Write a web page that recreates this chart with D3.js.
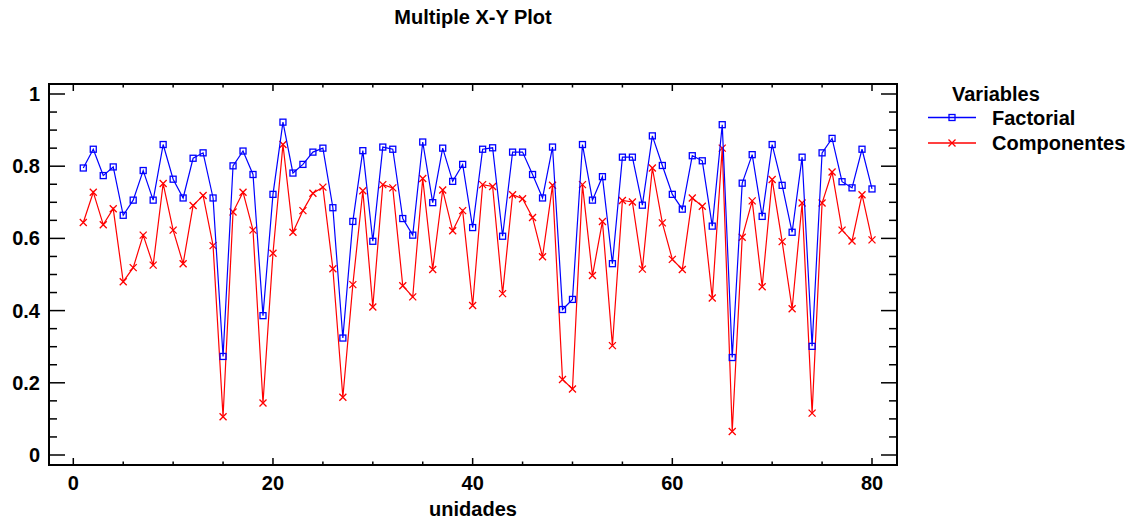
<!DOCTYPE html>
<html>
<head>
<meta charset="utf-8">
<script src="https://cdn.jsdelivr.net/npm/d3@7"></script>
<style>
  body { margin: 0; background: #fff; }
  text { font-family: "Liberation Sans", Arial, sans-serif; font-weight: bold; fill: #000; }
</style>
</head>
<body>
<svg id="chart" width="1132" height="521"></svg>
<script>
// unidades 1..80
const units = d3.range(1, 81);

const factorial = [
  0.795, 0.847, 0.774, 0.798, 0.664, 0.706, 0.788, 0.706, 0.860, 0.764,
  0.712, 0.822, 0.837, 0.712, 0.273, 0.801, 0.842, 0.777, 0.386, 0.722,
  0.922, 0.781, 0.805, 0.839, 0.850, 0.685, 0.324, 0.647, 0.843, 0.592,
  0.853, 0.847, 0.655, 0.609, 0.867, 0.699, 0.850, 0.758, 0.805, 0.630,
  0.847, 0.851, 0.606, 0.839, 0.839, 0.777, 0.712, 0.853, 0.403, 0.431,
  0.860, 0.706, 0.771, 0.530, 0.825, 0.825, 0.692, 0.884, 0.802, 0.722,
  0.681, 0.829, 0.815, 0.634, 0.915, 0.270, 0.753, 0.832, 0.661, 0.860,
  0.747, 0.617, 0.825, 0.301, 0.837, 0.877, 0.757, 0.740, 0.847, 0.737
];

const componentes = [
  0.644, 0.728, 0.638, 0.682, 0.480, 0.519, 0.609, 0.526, 0.752, 0.623,
  0.530, 0.691, 0.719, 0.580, 0.106, 0.673, 0.728, 0.623, 0.144, 0.559,
  0.860, 0.617, 0.677, 0.725, 0.742, 0.516, 0.160, 0.472, 0.732, 0.410,
  0.749, 0.740, 0.469, 0.438, 0.766, 0.514, 0.734, 0.621, 0.677, 0.414,
  0.749, 0.744, 0.447, 0.721, 0.710, 0.658, 0.549, 0.747, 0.209, 0.183,
  0.749, 0.497, 0.647, 0.303, 0.705, 0.701, 0.515, 0.795, 0.643, 0.542,
  0.514, 0.712, 0.689, 0.435, 0.850, 0.065, 0.603, 0.704, 0.466, 0.763,
  0.591, 0.405, 0.698, 0.116, 0.698, 0.784, 0.623, 0.593, 0.721, 0.596
];

const xTicks = [0, 20, 40, 60, 80];
const yTicks = [0, 0.2, 0.4, 0.6, 0.8, 1];
const yTickLabels = ["0", "0.2", "0.4", "0.6", "0.8", "1"];

const svg = d3.select("#chart");

// marco del grafico
const frame = { left: 49, right: 897, top: 84, bottom: 465 };

const x = d3.scaleLinear().domain([0, 80]).range([73.3, 872]);
const y = d3.scaleLinear().domain([0, 1]).range([455, 94]);

// titulo
svg.append("text")
    .attr("x", 473).attr("y", 24)
    .attr("text-anchor", "middle")
    .style("font-size", "20px")
    .text("Multiple X-Y Plot");

// ticks del eje x (abajo y arriba)
const xMinor = d3.range(0, 81, 5);
const g = svg.append("g").attr("stroke", "#000");

xMinor.forEach(v => {
  const len = xTicks.includes(v) ? 7 : 3.5;
  g.append("line").attr("x1", x(v)).attr("x2", x(v))
      .attr("y1", frame.bottom).attr("y2", frame.bottom - len).attr("stroke-width", 1.5);
  g.append("line").attr("x1", x(v)).attr("x2", x(v))
      .attr("y1", frame.top).attr("y2", frame.top + len).attr("stroke-width", 1.5);
});

// ticks del eje y (izquierda y derecha)
const yMinor = d3.range(0, 21).map(i => i * 0.05);
yMinor.forEach((v, i) => {
  const len = i % 4 === 0 ? 16 : 8;
  g.append("line").attr("x1", frame.left).attr("x2", frame.left + len)
      .attr("y1", y(v)).attr("y2", y(v)).attr("stroke-width", 1.5);
  g.append("line").attr("x1", frame.right).attr("x2", frame.right - len)
      .attr("y1", y(v)).attr("y2", y(v)).attr("stroke-width", 1.5);
});

svg.append("rect")
    .attr("x", frame.left).attr("y", frame.top)
    .attr("width", frame.right - frame.left)
    .attr("height", frame.bottom - frame.top)
    .attr("fill", "none").attr("stroke", "#000").attr("stroke-width", 2);

// etiquetas de ticks
svg.selectAll(".xlab").data(xTicks).enter().append("text")
    .attr("x", d => x(d)).attr("y", 490)
    .attr("text-anchor", "middle")
    .style("font-size", "20px")
    .text(d => d);

svg.selectAll(".ylab").data(yTicks).enter().append("text")
    .attr("x", 40).attr("y", d => y(d) + 7)
    .attr("text-anchor", "end")
    .style("font-size", "20px")
    .text((d, i) => yTickLabels[i]);

svg.append("text")
    .attr("x", 473).attr("y", 516)
    .attr("text-anchor", "middle")
    .style("font-size", "20px")
    .text("unidades");

// series
const line = d3.line().x((d, i) => x(units[i])).y(d => y(d));

const series = [
  { name: "Factorial", values: factorial, color: "#0000ff", marker: "square" },
  { name: "Componentes", values: componentes, color: "#ff0000", marker: "cross" }
];

function drawMarker(sel, type, cx, cy, color) {
  if (type === "square") {
    sel.append("rect")
        .attr("x", cx - 3).attr("y", cy - 3)
        .attr("width", 6).attr("height", 6)
        .attr("fill", "none").attr("stroke", color).attr("stroke-width", 1.3);
  } else {
    sel.append("path")
        .attr("d", `M${cx - 3.5},${cy - 3.5}L${cx + 3.5},${cy + 3.5}M${cx - 3.5},${cy + 3.5}L${cx + 3.5},${cy - 3.5}`)
        .attr("stroke", color).attr("stroke-width", 1.3);
  }
}

series.slice().reverse().forEach(s => {
  svg.append("path")
      .datum(s.values)
      .attr("fill", "none")
      .attr("stroke", s.color)
      .attr("stroke-width", 1.2)
      .attr("d", line);
  const mg = svg.append("g");
  s.values.forEach((v, i) => drawMarker(mg, s.marker, x(units[i]), y(v), s.color));
});

// leyenda
svg.append("text")
    .attr("x", 952).attr("y", 101)
    .style("font-size", "20px")
    .text("Variables");

series.forEach((s, i) => {
  const ly = 117.5 + i * 25.5;
  svg.append("line")
      .attr("x1", 928).attr("x2", 976)
      .attr("y1", ly).attr("y2", ly)
      .attr("stroke", s.color).attr("stroke-width", 1.5);
  drawMarker(svg, s.marker, 952, ly, s.color);
  svg.append("text")
      .attr("x", 992).attr("y", ly + 7)
      .style("font-size", "20px")
      .text(s.name);
});
</script>
</body>
</html>
